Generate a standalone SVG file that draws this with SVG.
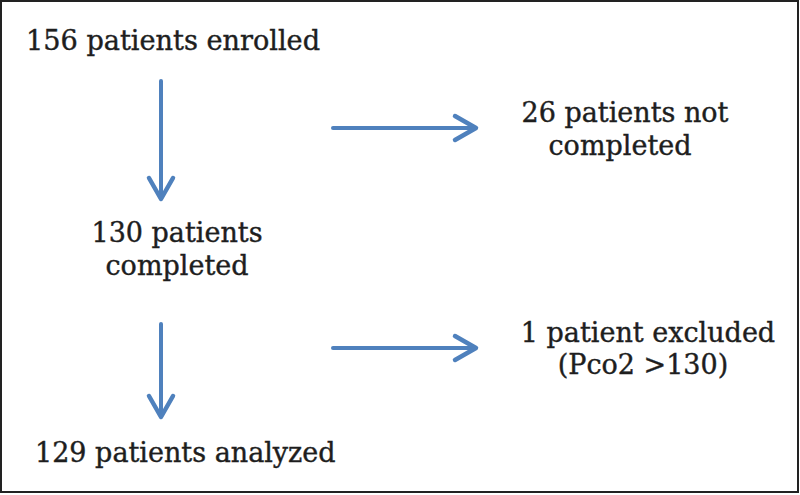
<svg xmlns="http://www.w3.org/2000/svg" width="800" height="495" viewBox="0 0 800 495">
  <style>
    .t { font-family: "DejaVu Serif", "Liberation Serif", serif; font-size: 27px; fill: #1e1e1e; stroke: #1e1e1e; stroke-width: 0.4; }
    .c { stroke: #4f81bd; stroke-width: 4; fill: none; stroke-linecap: round; }
  </style>
  <defs>
    <marker id="ah" markerUnits="userSpaceOnUse" viewBox="-26 -16 32 32" markerWidth="32" markerHeight="32" refX="0" refY="0" orient="auto">
      <path d="M-20,-12 L1,0 L-20,12" stroke="#4f81bd" stroke-width="4.5" fill="none" stroke-linecap="round" stroke-linejoin="round"/>
    </marker>
  </defs>
  <rect x="1" y="1" width="797" height="491" fill="#ffffff" stroke="#222222" stroke-width="2"/>

  <g id="connectors">
    <line class="c" x1="161" y1="81" x2="161" y2="198" marker-end="url(#ah)"/>
    <line class="c" x1="161" y1="324" x2="161" y2="416" marker-end="url(#ah)"/>
    <line class="c" x1="333" y1="128" x2="475" y2="128" marker-end="url(#ah)"/>
    <line class="c" x1="333" y1="348" x2="475" y2="348" marker-end="url(#ah)"/>
  </g>

  <g id="enrolled">
    <text class="t" x="26" y="50" textLength="294" lengthAdjust="spacingAndGlyphs">156 patients enrolled</text>
  </g>
  <g id="completed">
    <text class="t" x="177" y="242" text-anchor="middle">130 patients</text>
    <text class="t" x="177" y="275" text-anchor="middle">completed</text>
  </g>
  <g id="not-completed">
    <text class="t" x="625" y="122" text-anchor="middle">26 patients not</text>
    <text class="t" x="620" y="155" text-anchor="middle">completed</text>
  </g>
  <g id="excluded">
    <text class="t" x="648" y="342" text-anchor="middle">1 patient excluded</text>
    <text class="t" x="643" y="374" text-anchor="middle">(Pco2 &gt;130)</text>
  </g>
  <g id="analyzed">
    <text class="t" x="35" y="462">129 patients analyzed</text>
  </g>
</svg>
